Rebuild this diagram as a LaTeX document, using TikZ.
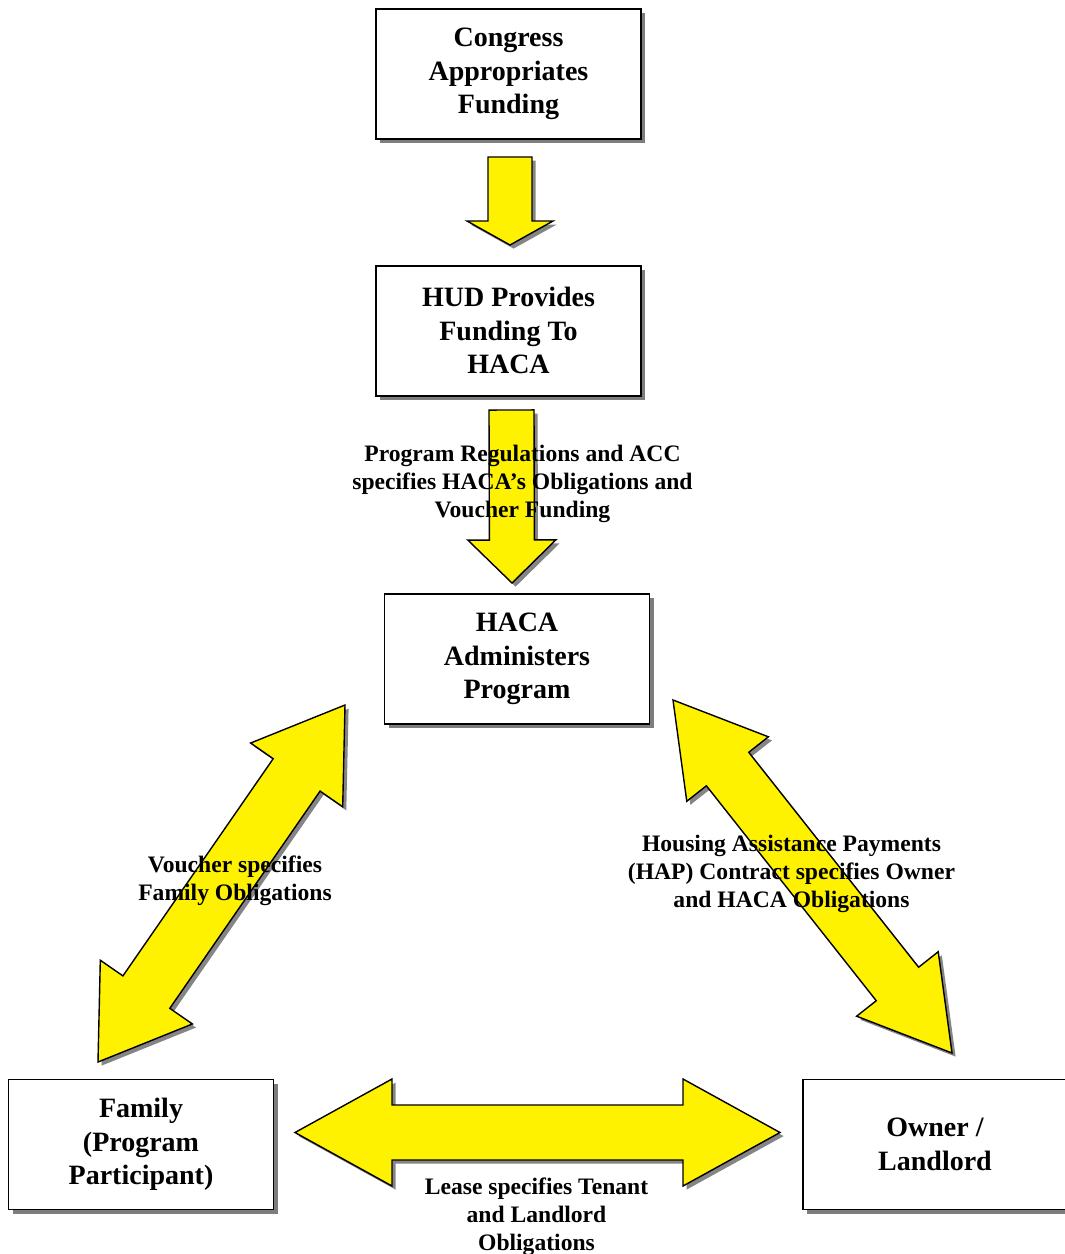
\documentclass[tikz,border=0pt]{standalone}
\usepackage{fontspec}
\setmainfont{Liberation Serif}
\usetikzlibrary{positioning, calc, shadows}

% block arrow with two heads: tips #1 and #2, shaft half width, head half width, head length
\newcommand{\dblarrow}[5]{%
  \draw[blockarrow] (#1)
    -- ($(#1)!#5!(#2)!#4!90:(#2)$)
    -- ($(#1)!#5!(#2)!#3!90:(#2)$)
    -- ($(#2)!#5!(#1)!#3!-90:(#1)$)
    -- ($(#2)!#5!(#1)!#4!-90:(#1)$)
    -- (#2)
    -- ($(#2)!#5!(#1)!#4!90:(#1)$)
    -- ($(#2)!#5!(#1)!#3!90:(#1)$)
    -- ($(#1)!#5!(#2)!#3!-90:(#2)$)
    -- ($(#1)!#5!(#2)!#4!-90:(#2)$)
    -- cycle;}
% block arrow with one head: tail #1, tip #2
\newcommand{\sglarrow}[5]{%
  \draw[blockarrow] ($(#1)!#3!90:(#2)$)
    -- ($(#2)!#5!(#1)!#3!-90:(#1)$)
    -- ($(#2)!#5!(#1)!#4!-90:(#1)$)
    -- (#2)
    -- ($(#2)!#5!(#1)!#4!90:(#1)$)
    -- ($(#2)!#5!(#1)!#3!90:(#1)$)
    -- ($(#1)!#3!-90:(#2)$)
    -- cycle;}

\begin{document}
\begin{tikzpicture}[x=0.5pt, y=-0.5pt]
			% styles
			\tikzstyle{box} = [rectangle, draw, line width=0.9pt, fill=white, minimum width=132.5pt, minimum height=65pt, align=center, font=\bfseries\fontsize{14}{16.75}\selectfont, drop shadow={shadow xshift=2pt, shadow yshift=-2pt, fill=black!60, opacity=0.85}]
			\tikzstyle{blockarrow} = [draw=black, line width=0.7pt, fill=yellow, drop shadow={shadow xshift=1.8pt, shadow yshift=-1.8pt, fill=black!60, opacity=0.8}]
			\tikzstyle{lbl} = [align=center, inner sep=0pt, font=\bfseries\fontsize{11.8}{14}\selectfont]
			\useasboundingbox (0,0) rectangle (1065,1254);
			
			% boxes
			\node [box] (congress) at (508.5,74) {Congress\\Appropriates\\Funding};
			\node [box, below=62.5pt of congress] (hud) {HUD Provides\\Funding To\\HACA};
			\node [box] (haca) at (517,659) {HACA\\Administers\\Program};
			\node [box] (family) at (141,1144.5) {Family\\(Program\\Participant)};
			\node [box, minimum width=132pt] (owner) at (935,1144.5) {Owner /\\Landlord};
			
			% arrow ends
			\coordinate (fundS) at (510,157);
			\coordinate (fundT) at (510,245);
			\coordinate (regS) at (511.5,410);
			\coordinate (regT) at (512,583);
			\coordinate (vchA) at (98,1062);
			\coordinate (vchB) at (345,705);
			\coordinate (hapA) at (673,700);
			\coordinate (hapB) at (952,1053);
			\coordinate (leaseA) at (295,1132.5);
			\coordinate (leaseB) at (780,1132.5);
			
			% arrows
			\sglarrow{fundS}{fundT}{11pt}{21.5pt}{12pt}
			\sglarrow{regS}{regT}{11.25pt}{22pt}{21.5pt}
			\dblarrow{vchA}{vchB}{14.25pt}{28pt}{42.5pt}
			\dblarrow{hapA}{hapB}{13.5pt}{26pt}{44pt}
			\dblarrow{leaseA}{leaseB}{13.75pt}{26.75pt}{48.5pt}
			
			% labels
			\node [lbl] (reglbl) at (522.5,484) {Program Regulations and ACC\\specifies HACA’s Obligations and\\Voucher Funding};
			\node [lbl] (vchlbl) at (235,881) {Voucher specifies\\Family Obligations};
			\node [lbl] (haplbl) at (791.5,874) {Housing Assistance Payments\\(HAP) Contract specifies Owner\\and HACA Obligations};
			\node [lbl] (leaselbl) at (536.5,1217) {Lease specifies Tenant\\and Landlord\\Obligations};
		\end{tikzpicture}
\end{document}
